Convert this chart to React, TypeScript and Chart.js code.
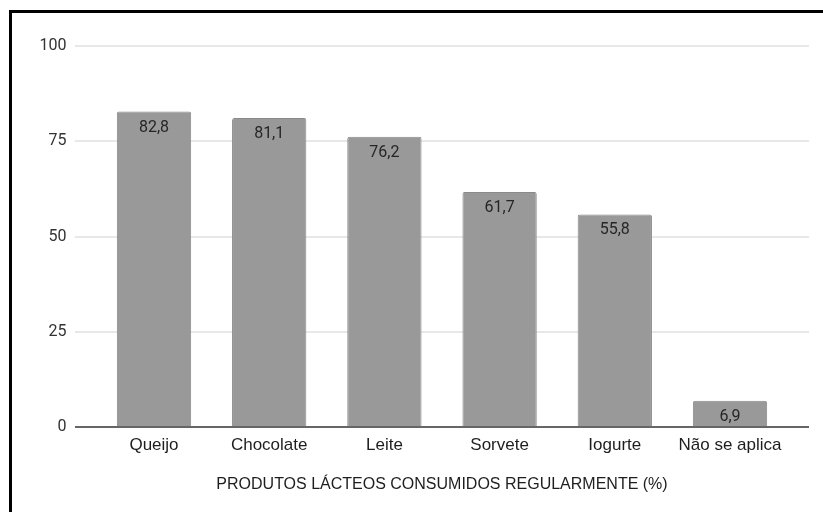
import React, { useEffect, useRef } from "react";
import { Chart, registerables } from "chart.js";

Chart.register(...registerables);

const categories = ["Queijo", "Chocolate", "Leite", "Sorvete", "Iogurte", "Não se aplica"];
const values = [82.8, 81.1, 76.2, 61.7, 55.8, 6.9];
const yTicks = [0, 25, 50, 75, 100];
const axisTitle = "PRODUTOS LÁCTEOS CONSUMIDOS REGULARMENTE (%)";

const fmt = (v: number) => v.toFixed(1).replace(".", ",");

// Horizontal grid lines and baseline reach a bit past the outer bars.
const GRID_OVERHANG = 21.4;

const gridPlugin = {
  id: "wideGrid",
  beforeDatasetsDraw(chart: any) {
    const { ctx, chartArea, scales } = chart;
    const y = scales.y;
    const x0 = chartArea.left - GRID_OVERHANG;
    const x1 = chartArea.right + GRID_OVERHANG;
    ctx.save();
    yTicks.forEach((t) => {
      if (t === 0) return;
      const py = Math.round(y.getPixelForValue(t));
      ctx.strokeStyle = "#e0e0e0";
      ctx.lineWidth = 1.5;
      ctx.beginPath();
      ctx.moveTo(x0, py);
      ctx.lineTo(x1, py);
      ctx.stroke();
    });
    ctx.restore();
  },
  afterDatasetsDraw(chart: any) {
    const { ctx, chartArea, scales } = chart;
    const y = scales.y;
    const x0 = chartArea.left - GRID_OVERHANG;
    const x1 = chartArea.right + GRID_OVERHANG;
    const py = y.getPixelForValue(0);
    ctx.save();
    ctx.strokeStyle = "#666666";
    ctx.lineWidth = 2;
    ctx.beginPath();
    ctx.moveTo(x0, py);
    ctx.lineTo(x1, py);
    ctx.stroke();

    // value labels just inside the top of each bar
    const meta = chart.getDatasetMeta(0);
    ctx.fillStyle = "#262626";
    ctx.font = "16px Roboto";
    ctx.textAlign = "center";
    ctx.textBaseline = "middle";
    meta.data.forEach((bar: any, i: number) => {
      ctx.fillText(fmt(values[i]), bar.x, bar.y + 16);
    });
    ctx.restore();
  },
};

export default function App() {
  const canvasRef = useRef<HTMLCanvasElement | null>(null);

  useEffect(() => {
    if (!canvasRef.current) return;
    const chart = new Chart(canvasRef.current, {
      type: "bar",
      data: {
        labels: categories,
        datasets: [
          {
            data: values,
            backgroundColor: "#999999",
            borderColor: "#8a8a8a",
            borderWidth: 1,
            borderSkipped: "bottom",
            borderRadius: 2,
            categoryPercentage: 1,
            barPercentage: 0.645,
          },
        ],
      },
      options: {
        animation: false,
        responsive: true,
        maintainAspectRatio: false,
        layout: { padding: { left: 0, right: 35.4, top: 46, bottom: 13.4 } },
        plugins: {
          legend: { display: false },
          tooltip: { enabled: false },
        },
        scales: {
          x: {
            grid: { display: false, drawTicks: false },
            border: { display: false },
            ticks: {
              padding: 8,
              color: "#1e1e1e",
              font: { family: "'Liberation Sans', Arial, sans-serif", size: 17 },
              maxRotation: 0,
              autoSkip: false,
            },
            title: {
              display: true,
              text: axisTitle,
              color: "#1e1e1e",
              font: { family: "'Liberation Sans', Arial, sans-serif", size: 16 },
              padding: { top: 12, bottom: 4 },
            },
          },
          y: {
            min: 0,
            max: 100,
            grid: { display: false, drawTicks: false },
            border: { display: false },
            afterFit(scale: any) {
              scale.width = 96.4;
            },
            afterBuildTicks(scale: any) {
              scale.ticks = yTicks.map((v) => ({ value: v }));
            },
            ticks: {
              padding: 30,
              color: "#333",
              font: { family: "Roboto, sans-serif", size: 16 },
            },
          },
        },
      },
      plugins: [gridPlugin],
    });
    return () => chart.destroy();
  }, []);

  return (
    <div
      style={{
        position: "fixed",
        left: 0,
        top: 0,
        width: 823,
        height: 512,
        background: "#fff",
        overflow: "hidden",
      }}
    >
      <canvas ref={canvasRef} style={{ position: "absolute", left: 0, top: 0 }} />
      <div
        style={{
          position: "absolute",
          left: 9,
          top: 10,
          width: 900,
          height: 600,
          border: "3px solid #000",
          pointerEvents: "none",
        }}
      />
    </div>
  );
}
